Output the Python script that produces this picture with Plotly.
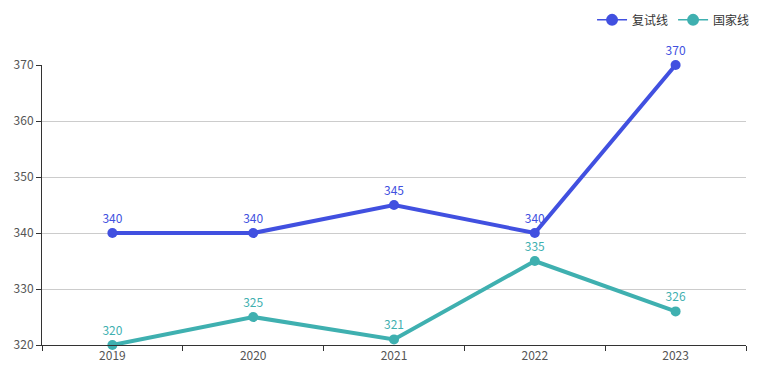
import plotly.graph_objects as go

years = ["2019", "2020", "2021", "2022", "2023"]
retest_line = [340, 340, 345, 340, 370]
national_line = [320, 325, 321, 335, 326]
series_names = ["复试线", "国家线"]
colors = ["#4150e0", "#3fb0b0"]

fig = go.Figure()
for name, vals, c in zip(series_names, [retest_line, national_line], colors):
    fig.add_trace(go.Scatter(
        x=years, y=vals, name=name, mode="lines+markers+text",
        text=[str(v) for v in vals], textposition="top center",
        textfont=dict(color=c, size=12),
        line=dict(color=c, width=4),
        marker=dict(color=c, size=10),
        cliponaxis=False, showlegend=False,
    ))
for name, c in zip(series_names, colors):
    fig.add_trace(go.Scatter(
        x=[None], y=[None], name=name, mode="lines+markers",
        line=dict(color=c, width=1.5), marker=dict(color=c, size=12),
    ))

fig.update_layout(
    width=779, height=383,
    margin=dict(l=34, r=41, t=57, b=46, autoexpand=False),
    plot_bgcolor="white", paper_bgcolor="white",
    font=dict(family="Noto Sans CJK SC, Noto Sans, sans-serif", size=12, color="#555555"),
    showlegend=True,
    legend=dict(orientation="h", xref="container", x=0.959, xanchor="right",
                yref="container", y=0.969, yanchor="middle",
                font=dict(size=12, color="#333"), itemwidth=30, bgcolor="rgba(0,0,0,0)"),
)
fig.update_xaxes(type="category", range=[-0.5, 4.5], tickson="boundaries", ticks="outside", ticklen=5,
                 tickcolor="#333", showline=True, linecolor="#333", linewidth=1,
                 showgrid=False, tickfont=dict(color="#555555", size=12))
fig.update_yaxes(range=[320, 370], tickvals=[320, 330, 340, 350, 360, 370],
                 ticks="outside", ticklen=5, tickcolor="#333",
                 showline=True, linecolor="#333", linewidth=1,
                 showgrid=True, gridcolor="#cccccc", gridwidth=1, zeroline=False,
                 tickfont=dict(color="#555555", size=12))

fig.write_html("out.html")
